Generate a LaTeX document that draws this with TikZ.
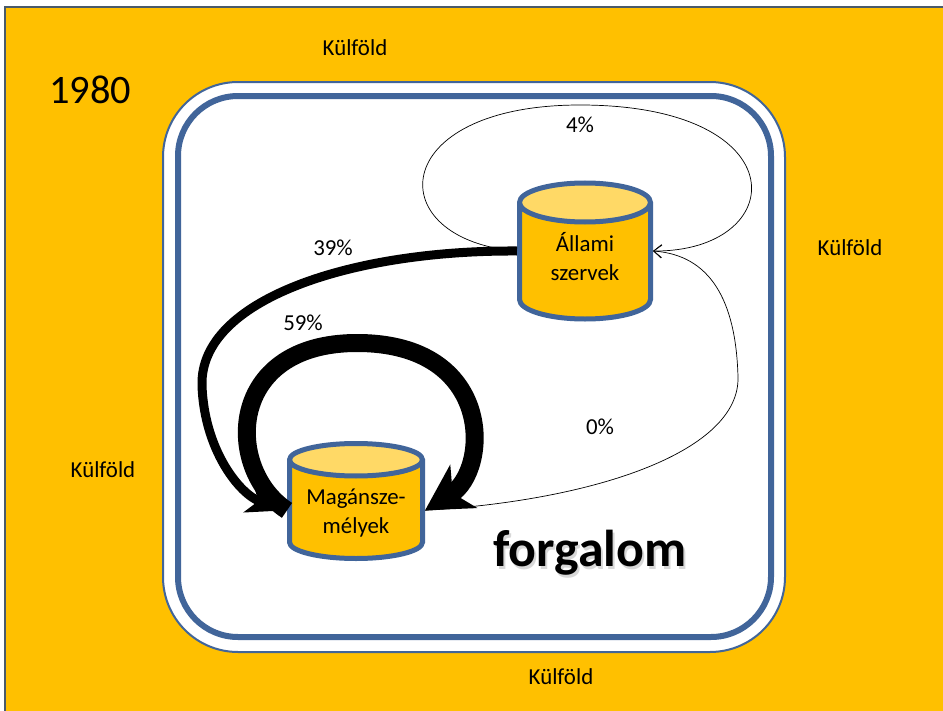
\documentclass[tikz,border=0pt]{standalone}
\usepackage{fontspec}
\setmainfont{Carlito}
\usetikzlibrary{arrows.meta,shapes.geometric}
\definecolor{bgorange}{HTML}{FFC000}
\definecolor{frameblue}{HTML}{41659A}
\definecolor{lidyellow}{HTML}{FFD966}
\definecolor{pagegray}{HTML}{4A5A6A}
\newcommand{\lidbox}[1]{\phantom{\rule{#1}{#1}}}

\begin{document}
\begin{tikzpicture}[x=0.2mm, y=-0.2mm, font=\fontsize{13}{16}\selectfont,
  tank/.style={cylinder, shape border rotate=90, aspect=0.65, draw=frameblue,
    line width=1mm, cylinder uses custom fill, cylinder body fill=bgorange,
    cylinder end fill=lidyellow, inner sep=0pt, anchor=shape center},
  tanktext/.style={align=center, inner sep=0pt, font=\fontsize{13}{16.5}\selectfont},
  flowA/.style={line width=1.8mm, -{Stealth[length=8mm, width=6mm, inset=2mm]}},
  flowB/.style={line width=3.6mm, -{Stealth[length=9mm, width=10mm, inset=2.5mm]}},
  flowthin/.style={line width=0.4pt, -{Straight Barb[length=1.6mm, width=2.6mm]}},
  pct/.style={inner sep=0pt}]
  \useasboundingbox (0,0) rectangle (943,711);
  % background and frames
  \draw[pagegray, fill=bgorange, line width=0.3mm] (5,7) rectangle (945,715);
  \draw[frameblue, fill=white, line width=0.4mm, rounded corners=15mm] (163,82) rectangle (785,652);
  \draw[frameblue, line width=1.2mm, rounded corners=12mm] (178,96) rectangle (771,637);
  % texts outside
  \node (year) at (90,90) {\fontsize{23}{26}\selectfont 1980};
  \node (kfTop) at (355,48) {Külföld};
  \node (kfRight) at (850,248) {Külföld};
  \node (kfLeft) at (103,470) {Külföld};
  \node (kfBottom) at (561,677) {Külföld};
  % tanks
  \node[tank, minimum width=26.2mm, minimum height=27.2mm] (allami) at (585,251) {\lidbox{12mm}};
  \node[tanktext] (allamiText) at (585,257) {Állami\\szervek};
  \node[tank, minimum width=26.6mm, minimum height=23mm] (magan) at (356,501) {\lidbox{10mm}};
  \node[tanktext] (maganText) at (356,513) {Magánsze-\\mélyek};
  % flows
  \draw[flowthin] (allami.west |- allami.shape center) .. controls (380,240) and (385,105) .. (580,105)
    .. controls (800,105) and (790,252) .. (allami.east |- allami.shape center);
  \draw[flowA] (allami.west |- allami.shape center) .. controls (350,250) and (200,300) .. (202,385)
    .. controls (204,450) and (240,495) .. (magan.west);
  \draw[flowB] (magan.west) .. controls (225,470) and (225,343) .. (357,343)
    .. controls (495,343) and (490,470) .. (magan.east);
  \draw[flowthin] (magan.east) .. controls (600,500) and (740,450) .. (738,377)
    .. controls (736,300) and (710,255) .. (allami.east |- allami.shape center);
  \node[pct] (p4) at (580,125) {4\%};
  \node[pct] (p39) at (333,248) {39\%};
  \node[pct] (p59) at (303,323) {59\%};
  \node[pct] (p0) at (600,427) {0\%};
  % title
  \node[black!30, opacity=0.5] (forgalomShadow) at (592,556) {\bfseries\fontsize{29.5}{34}\selectfont forgalom};
  \node (forgalom) at (590,553) {\bfseries\fontsize{29.5}{34}\selectfont forgalom};
\end{tikzpicture}
\end{document}
